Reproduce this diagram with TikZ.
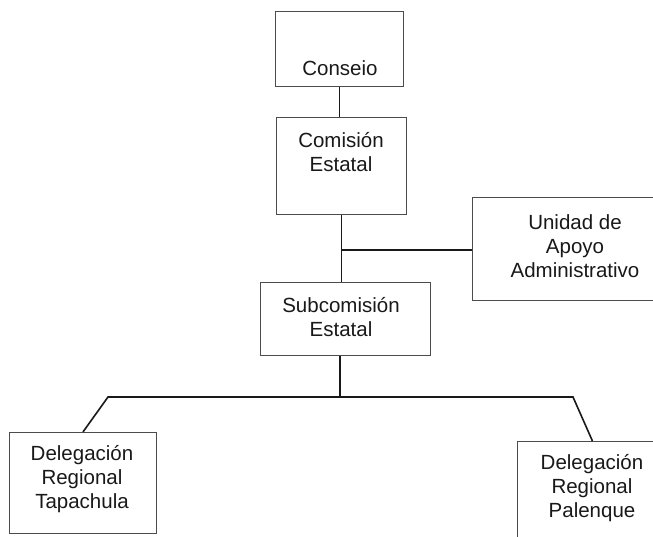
\documentclass[tikz,border=0pt]{standalone}
\usepackage{fontspec}
\setmainfont{Liberation Sans}
\begin{document}
\begin{tikzpicture}[x=1pt,y=-1pt,
  box/.style={draw=black!70,line width=0.9pt,rectangle,inner sep=0pt,anchor=north west},
  lbl/.style={font=\fontsize{20.5}{24}\selectfont,align=center,text=black!90,inner sep=0pt},
  conn/.style={draw=black!90,line width=1.6pt}]
\useasboundingbox (0,0) rectangle (653,536);
\clip (0,0) rectangle (653,536);
\fill[white] (0,0) rectangle (653,536);
% boxes
\node[box,minimum width=128pt,minimum height=75pt] (conseio) at (275,11) {};
\node[box,minimum width=130pt,minimum height=97pt] (comision) at (276,117) {};
\node[box,minimum width=190pt,minimum height=103pt] (unidad) at (472,197) {};
\node[box,minimum width=170pt,minimum height=73pt] (subcom) at (260,282) {};
\node[box,minimum width=147pt,minimum height=101pt] (tapachula) at (9,432) {};
\node[box,minimum width=150pt,minimum height=110pt] (palenque) at (517,441) {};
% labels
\node[lbl] (tconseio) at (340,68) {Conseio};
\node[lbl] (tcomision) at (341,152) {Comisión\\Estatal};
\node[lbl] (tunidad) at (575,246) {Unidad de\\Apoyo\\Administrativo};
\node[lbl] (tsubcom) at (341,317) {Subcomisión\\Estatal};
\node[lbl] (ttapachula) at (82,479) {Delegación\\Regional\\Tapachula};
\node[lbl] (tpalenque) at (592,488) {Delegación\\Regional\\Palenque};
% connectors
\coordinate (j1) at (341,250);
\coordinate (j2) at (340,397);
\coordinate (bl) at (108,397);
\coordinate (br) at (573,397);
\draw[conn] (conseio.south) -- (conseio.south |- comision.north);
\draw[conn] (comision.south) -- (comision.south |- subcom.north);
\draw[conn] (j1) -- (j1 -| unidad.west);
\draw[conn] (subcom.south -| j2) -- (j2);
\draw[conn] (tapachula.north) -- (bl) -- (br) -- (palenque.north);
\end{tikzpicture}
\end{document}
